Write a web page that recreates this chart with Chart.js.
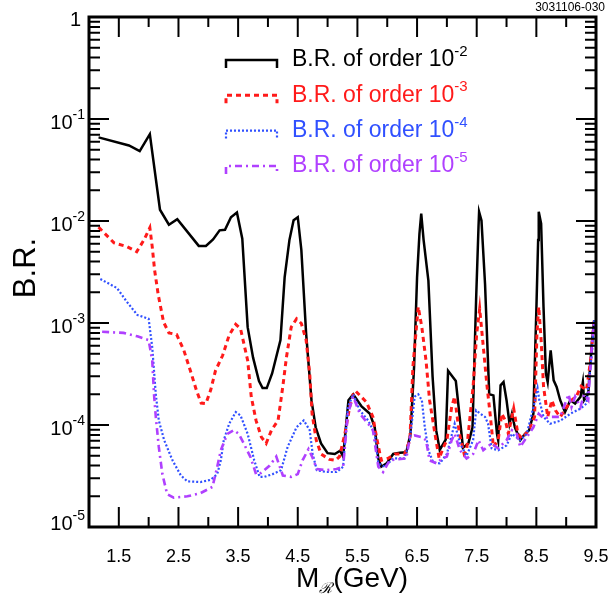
<!DOCTYPE html>
<html>
<head>
<meta charset="utf-8">
<script src="https://cdn.jsdelivr.net/npm/chart.js@4.4.0/dist/chart.umd.min.js"></script>
<style>
  html, body { margin: 0; padding: 0; background: #fff; }
  #wrap { width: 611px; height: 600px; }
</style>
</head>
<body>
<div id="wrap"><canvas id="chart" width="611" height="600"></canvas></div>
<script>
// B.R. of order 10^-2 (black, solid)
const blackX = [1.16, 1.67, 1.85, 2.02, 2.19, 2.34, 2.48, 2.84, 2.96, 3.08, 3.19, 3.28, 3.38, 3.48, 3.57, 3.66, 3.75, 3.85, 3.91, 3.98, 4.07, 4.21, 4.28, 4.36, 4.43, 4.50, 4.56, 4.64, 4.73, 4.80, 4.89, 5.00, 5.12, 5.21, 5.26, 5.35, 5.43, 5.57, 5.71, 5.79, 5.85, 5.90, 5.99, 6.10, 6.21, 6.32, 6.39, 6.45, 6.50, 6.54, 6.57, 6.61, 6.69, 6.76, 6.82, 6.88, 6.98, 7.02, 7.15, 7.27, 7.36, 7.43, 7.49, 7.53, 7.54, 7.58, 7.64, 7.71, 7.78, 7.84, 7.86, 7.90, 7.95, 8.00, 8.05, 8.09, 8.14, 8.23, 8.31, 8.38, 8.45, 8.50, 8.53, 8.54, 8.58, 8.62, 8.66, 8.69, 8.74, 8.79, 8.84, 8.90, 8.98, 9.07, 9.15, 9.24, 9.28, 9.30, 9.37, 9.43, 9.47];
const blackY = [0.066, 0.055, 0.0485, 0.071, 0.0129, 0.0092, 0.0104, 0.0057, 0.0057, 0.0066, 0.0081, 0.0082, 0.0109, 0.0121, 0.0067, 0.00091, 0.00046, 0.00027, 0.00023, 0.00023, 0.00032, 0.00068, 0.0028, 0.0065, 0.0102, 0.0109, 0.0052, 0.00079, 0.000175, 9.5e-5, 6.6e-5, 5.3e-5, 5.2e-5, 5.6e-5, 4.9e-5, 0.000175, 0.0002, 0.000152, 0.000129, 9.5e-5, 4.7e-5, 3.9e-5, 4.2e-5, 5.2e-5, 5.35e-5, 5.4e-5, 8.2e-5, 0.00037, 0.0028, 0.0075, 0.0118, 0.0065, 0.0026, 0.0003, 8.9e-5, 5.7e-5, 7.2e-5, 0.00034, 0.00027, 6.0e-5, 6.6e-5, 9.5e-5, 0.0017, 0.0087, 0.0123, 0.0101, 0.0024, 0.0002, 0.000195, 8.2e-5, 7.1e-5, 0.000245, 0.000264, 0.000175, 0.000103, 0.000129, 9.5e-5, 7.1e-5, 8.2e-5, 8.9e-5, 0.000129, 0.00133, 0.0065, 0.0123, 0.0094, 0.00144, 0.00032, 0.000264, 0.00054, 0.000274, 0.000236, 0.000175, 0.000134, 0.000175, 0.000162, 0.000189, 0.000264, 0.000175, 0.000203, 0.00063, 0.00106];

// B.R. of order 10^-3 (red, dashed)
const redX = [1.16, 1.42, 1.64, 1.80, 1.92, 2.02, 2.06, 2.10, 2.16, 2.25, 2.34, 2.47, 2.59, 2.70, 2.80, 2.88, 2.96, 3.04, 3.12, 3.24, 3.35, 3.46, 3.54, 3.66, 3.72, 3.80, 3.89, 3.97, 4.06, 4.17, 4.25, 4.31, 4.39, 4.48, 4.56, 4.64, 4.70, 4.74, 4.81, 4.89, 5.03, 5.13, 5.20, 5.29, 5.37, 5.44, 5.47, 5.65, 5.76, 5.83, 5.90, 6.01, 6.13, 6.29, 6.38, 6.43, 6.52, 6.58, 6.65, 6.71, 6.80, 6.87, 6.94, 7.00, 7.08, 7.13, 7.21, 7.29, 7.33, 7.44, 7.50, 7.55, 7.60, 7.67, 7.73, 7.78, 7.86, 7.92, 7.98, 8.03, 8.12, 8.19, 8.26, 8.37, 8.47, 8.51, 8.54, 8.58, 8.62, 8.69, 8.76, 8.82, 8.90, 9.01, 9.09, 9.17, 9.25, 9.34, 9.41, 9.47];
const redY = [0.0087, 0.0061, 0.0056, 0.0050, 0.0065, 0.0086, 0.0056, 0.0033, 0.0019, 0.00102, 0.0008, 0.00077, 0.00054, 0.00034, 0.00022, 0.000164, 0.000162, 0.00022, 0.00034, 0.00048, 0.00076, 0.00097, 0.00088, 0.00043, 0.00019, 0.000111, 7.6e-5, 6.6e-5, 8.9e-5, 0.000111, 0.00024, 0.00046, 0.00091, 0.0011, 0.00099, 0.00068, 0.00032, 0.000129, 7.1e-5, 5.2e-5, 4.6e-5, 4.5e-5, 4.9e-5, 8.2e-5, 0.00015, 0.00021, 0.000215, 0.000168, 0.00012, 7.1e-5, 4.5e-5, 4.7e-5, 5.2e-5, 5.2e-5, 7.1e-5, 0.00037, 0.00144, 0.00091, 0.00043, 0.000175, 8.2e-5, 4.7e-5, 6.0e-5, 7.1e-5, 0.00015, 0.00019, 8.2e-5, 5.2e-5, 5.6e-5, 0.00024, 0.00079, 0.00138, 0.00068, 0.00025, 0.00012, 6.1e-5, 7.1e-5, 0.000129, 0.000111, 8.2e-5, 0.000145, 8.2e-5, 7.4e-5, 8.9e-5, 0.00012, 0.00079, 0.00144, 0.00068, 0.00024, 0.00012, 0.000175, 0.000139, 0.00012, 0.00015, 0.000175, 0.00019, 0.00024, 0.00022, 0.00043, 0.00106];

// B.R. of order 10^-4 (blue, dotted)
const blueX = [1.19, 1.47, 1.64, 1.81, 2.00, 2.06, 2.12, 2.17, 2.26, 2.40, 2.54, 2.65, 2.87, 3.04, 3.15, 3.21, 3.26, 3.35, 3.46, 3.54, 3.66, 3.77, 3.86, 3.94, 4.08, 4.22, 4.33, 4.48, 4.60, 4.70, 4.75, 4.82, 4.98, 5.15, 5.26, 5.34, 5.43, 5.54, 5.68, 5.79, 5.85, 5.96, 6.10, 6.29, 6.38, 6.46, 6.52, 6.58, 6.63, 6.69, 6.77, 6.88, 7.00, 7.13, 7.22, 7.33, 7.44, 7.49, 7.56, 7.64, 7.69, 7.75, 7.86, 8.00, 8.09, 8.23, 8.34, 8.48, 8.52, 8.55, 8.62, 8.73, 8.90, 9.07, 9.24, 9.34, 9.43, 9.47];
const blueY = [0.0027, 0.0022, 0.0016, 0.0012, 0.0011, 0.00058, 0.0002, 0.000111, 7.1e-5, 4.5e-5, 3.2e-5, 2.8e-5, 2.76e-5, 2.9e-5, 3.3e-5, 4.5e-5, 7.1e-5, 0.000103, 0.000134, 0.000124, 8.2e-5, 4.5e-5, 3.1e-5, 3.1e-5, 3.3e-5, 3.6e-5, 6.1e-5, 9.5e-5, 0.000111, 8.9e-5, 5.2e-5, 3.6e-5, 3.46e-5, 3.46e-5, 3.9e-5, 0.00015, 0.0002, 0.000139, 0.000111, 8.2e-5, 4.2e-5, 3.9e-5, 4.7e-5, 4.7e-5, 7.1e-5, 0.00019, 0.0002, 0.000175, 9.5e-5, 5.65e-5, 4.3e-5, 4.2e-5, 5.2e-5, 0.000103, 6.6e-5, 5.0e-5, 7.1e-5, 0.000139, 0.000129, 0.00012, 0.000103, 5.9e-5, 5.65e-5, 6.3e-5, 8.2e-5, 7.1e-5, 8.2e-5, 0.000175, 0.00023, 0.000175, 0.00012, 0.000103, 0.00011, 0.000129, 0.000145, 0.000162, 0.0005, 0.00106];

// B.R. of order 10^-5 (purple, dash-dot)
const purpleX = [1.22, 1.58, 1.81, 2.00, 2.06, 2.09, 2.12, 2.17, 2.23, 2.31, 2.42, 2.65, 2.87, 3.07, 3.15, 3.21, 3.32, 3.43, 3.51, 3.60, 3.71, 3.80, 3.86, 4.03, 4.14, 4.25, 4.39, 4.50, 4.58, 4.68, 4.74, 4.82, 4.98, 5.15, 5.26, 5.34, 5.43, 5.54, 5.68, 5.76, 5.85, 5.93, 6.04, 6.15, 6.32, 6.38, 6.46, 6.58, 6.65, 6.71, 6.83, 6.92, 7.00, 7.08, 7.13, 7.22, 7.33, 7.44, 7.53, 7.61, 7.75, 7.86, 8.00, 8.09, 8.17, 8.23, 8.34, 8.45, 8.54, 8.62, 8.73, 8.90, 9.04, 9.09, 9.15, 9.24, 9.30, 9.37, 9.43, 9.47];
const purpleY = [0.00082, 0.0008, 0.00074, 0.00068, 0.00043, 0.0002, 0.00012, 6.1e-5, 3.3e-5, 2.1e-5, 1.94e-5, 2.0e-5, 2.15e-5, 2.47e-5, 3.9e-5, 5.65e-5, 8.2e-5, 8.9e-5, 8.2e-5, 6.5e-5, 4.8e-5, 3.3e-5, 3.3e-5, 4.0e-5, 4.9e-5, 3.2e-5, 3.1e-5, 3.3e-5, 4.5e-5, 5.8e-5, 4.9e-5, 3.7e-5, 3.6e-5, 3.7e-5, 3.9e-5, 0.000129, 0.00019, 0.000129, 0.000103, 8.9e-5, 3.9e-5, 3.46e-5, 4.5e-5, 4.6e-5, 4.7e-5, 7.6e-5, 7.9e-5, 7.6e-5, 7.1e-5, 4.5e-5, 4.2e-5, 4.7e-5, 4.9e-5, 7.1e-5, 8.2e-5, 5.65e-5, 4.7e-5, 5.2e-5, 7.1e-5, 5.65e-5, 6.6e-5, 5.9e-5, 7.1e-5, 8.9e-5, 8.2e-5, 6.1e-5, 7.6e-5, 9.5e-5, 0.000129, 0.000116, 0.00012, 0.00012, 0.0002, 0.00015, 0.00019, 0.00015, 0.0002, 0.000175, 0.0006, 0.00106];

// axis ticks
const xLabelTicks = [1.5, 2.5, 3.5, 4.5, 5.5, 6.5, 7.5, 8.5, 9.5];
const xMinorTicks = [2, 3, 4, 5, 6, 7, 8, 9];
const yDecades = [-5, -4, -3, -2, -1, 0];
const yMinorMult = [2, 3, 4, 5, 6, 7, 8, 9];

const seriesNames = ['B.R. of order 10', 'B.R. of order 10', 'B.R. of order 10', 'B.R. of order 10'];
const seriesExp = ['-2', '-3', '-4', '-5'];
const seriesColors = ['#000000', '#ff1a1a', '#3050ff', '#b040ff'];
const seriesDash = [[], [5, 4], [2, 2], [7, 4, 2, 4]];
const seriesWidth = [2.5, 3, 2.2, 2.6];

const FONT = '"Liberation Sans", Arial, Helvetica, sans-serif';

function pts(xs, ys) {
    return xs.map((x, i) => ({ x: x, y: ys[i] }));
}

// draw "10" with a raised exponent, right edge at x
function drawPowerRight(ctx, xr, yMid, size, supSize, exp) {
    ctx.font = size + 'px ' + FONT;
    const wb = ctx.measureText('10').width;
    ctx.font = supSize + 'px ' + FONT;
    const we = ctx.measureText(exp).width;
    ctx.textAlign = 'left';
    ctx.textBaseline = 'middle';
    ctx.font = size + 'px ' + FONT;
    ctx.fillText('10', xr - we - wb, yMid);
    ctx.font = supSize + 'px ' + FONT;
    ctx.fillText(exp, xr - we, yMid - size * 0.38);
}

const decorPlugin = {
    id: 'decor',
    afterDraw(chart) {
        const ctx = chart.ctx;
        const a = chart.chartArea;
        const xs = chart.scales.x;
        const ys = chart.scales.y;
        ctx.save();
        ctx.strokeStyle = '#000';
        ctx.fillStyle = '#000';
        ctx.setLineDash([]);

        // frame
        ctx.lineWidth = 3;
        ctx.strokeRect(a.left, a.top, a.right - a.left, a.bottom - a.top);

        // x ticks, inward on bottom and top
        ctx.lineWidth = 2;
        ctx.beginPath();
        xLabelTicks.forEach(v => {
            const px = xs.getPixelForValue(v);
            ctx.moveTo(px, a.bottom); ctx.lineTo(px, a.bottom - 20);
            ctx.moveTo(px, a.top); ctx.lineTo(px, a.top + 20);
        });
        xMinorTicks.forEach(v => {
            const px = xs.getPixelForValue(v);
            ctx.moveTo(px, a.bottom); ctx.lineTo(px, a.bottom - 10);
            ctx.moveTo(px, a.top); ctx.lineTo(px, a.top + 10);
        });
        // y ticks, inward on left and right
        yDecades.forEach(e => {
            const py = ys.getPixelForValue(Math.pow(10, e));
            ctx.moveTo(a.left, py); ctx.lineTo(a.left + 20, py);
            ctx.moveTo(a.right, py); ctx.lineTo(a.right - 20, py);
            if (e < 0) {
                yMinorMult.forEach(m => {
                    const q = ys.getPixelForValue(m * Math.pow(10, e));
                    ctx.moveTo(a.left, q); ctx.lineTo(a.left + 11, q);
                    ctx.moveTo(a.right, q); ctx.lineTo(a.right - 11, q);
                });
            }
        });
        ctx.stroke();

        // y tick labels
        yDecades.forEach(e => {
            const py = ys.getPixelForValue(Math.pow(10, e));
            if (e === 0) {
                ctx.font = '20px ' + FONT;
                ctx.textAlign = 'right';
                ctx.textBaseline = 'middle';
                ctx.fillText('1', 81, py + 3);
            } else {
                const off = e === -5 ? -3 : 4;
                drawPowerRight(ctx, 85, py + off, 20, 14, String(e));
            }
        });

        // y axis title
        ctx.save();
        ctx.translate(26, (a.top + a.bottom) / 2 - 4);
        ctx.rotate(-Math.PI / 2);
        ctx.font = '31px ' + FONT;
        ctx.textAlign = 'center';
        ctx.textBaseline = 'middle';
        ctx.fillText('B.R.', 0, 0);
        ctx.restore();

        // x axis title: M with script R subscript, then (GeV)
        ctx.textAlign = 'left';
        ctx.textBaseline = 'alphabetic';
        ctx.font = '28px ' + FONT;
        const x0 = 296, base = 587;
        ctx.fillText('M', x0, base);
        const wm = ctx.measureText('M').width;
        ctx.font = 'italic 15px "DejaVu Serif", serif';
        ctx.fillText('\u211B', x0 + wm, base + 6);
        const wr = ctx.measureText('\u211B').width;
        ctx.font = '28px ' + FONT;
        ctx.fillText('(GeV)', x0 + wm + wr + 1, base);

        // figure id top right
        ctx.font = '12px ' + FONT;
        ctx.textAlign = 'right';
        ctx.fillText('3031106-030', 605, 11);

        // legend
        const rowY = [60, 95.3, 130.6, 166];
        seriesNames.forEach((name, i) => {
            const y = rowY[i];
            ctx.strokeStyle = seriesColors[i];
            ctx.fillStyle = seriesColors[i];
            ctx.lineWidth = seriesWidth[i];
            ctx.setLineDash(seriesDash[i]);
            ctx.beginPath();
            ctx.moveTo(226, y + 8);
            ctx.lineTo(226, y);
            ctx.lineTo(277, y);
            ctx.lineTo(277, y + 8);
            ctx.stroke();
            ctx.setLineDash([]);
            ctx.font = '23px ' + FONT;
            ctx.textAlign = 'left';
            ctx.textBaseline = 'middle';
            ctx.fillText(name, 292, y);
            const w = ctx.measureText(name).width;
            ctx.font = '15px ' + FONT;
            ctx.fillText(seriesExp[i], 292 + w, y - 8);
        });
        ctx.restore();
    }
};

const datasets = [
    { data: pts(blackX, blackY) },
    { data: pts(redX, redY) },
    { data: pts(blueX, blueY) },
    { data: pts(purpleX, purpleY) }
].map((d, i) => Object.assign(d, {
    label: seriesNames[i] + seriesExp[i],
    borderColor: seriesColors[i],
    borderWidth: seriesWidth[i],
    borderDash: seriesDash[i],
    pointRadius: 0,
    tension: 0,
    fill: false
}));

// draw black last so it sits on top like the original
datasets.reverse();

new Chart(document.getElementById('chart').getContext('2d'), {
    type: 'line',
    data: { datasets: datasets },
    options: {
        responsive: false,
        animation: false,
        devicePixelRatio: 1,
        layout: { padding: { left: 0, right: 15, top: 17, bottom: 0 } },
        plugins: {
            legend: { display: false },
            tooltip: { enabled: false },
            title: { display: false }
        },
        scales: {
            x: {
                type: 'linear',
                min: 1,
                max: 9.5,
                grid: { display: false },
                border: { display: false },
                afterBuildTicks: scale => { scale.ticks = xLabelTicks.map(v => ({ value: v })); },
                afterFit: scale => {
                    scale.height = 73;
                    scale.paddingLeft = 0;
                    scale.paddingRight = 0;
                },
                ticks: {
                    autoSkip: false,
                    maxRotation: 0,
                    padding: 11,
                    color: '#000',
                    font: { family: FONT, size: 18 },
                    callback: v => Number(v).toFixed(1)
                }
            },
            y: {
                type: 'logarithmic',
                min: 1e-5,
                max: 1,
                grid: { display: false },
                border: { display: false },
                afterFit: scale => {
                    scale.width = 89;
                    scale.paddingTop = 0;
                    scale.paddingBottom = 0;
                },
                ticks: { display: false }
            }
        }
    },
    plugins: [decorPlugin]
});
</script>
</body>
</html>
